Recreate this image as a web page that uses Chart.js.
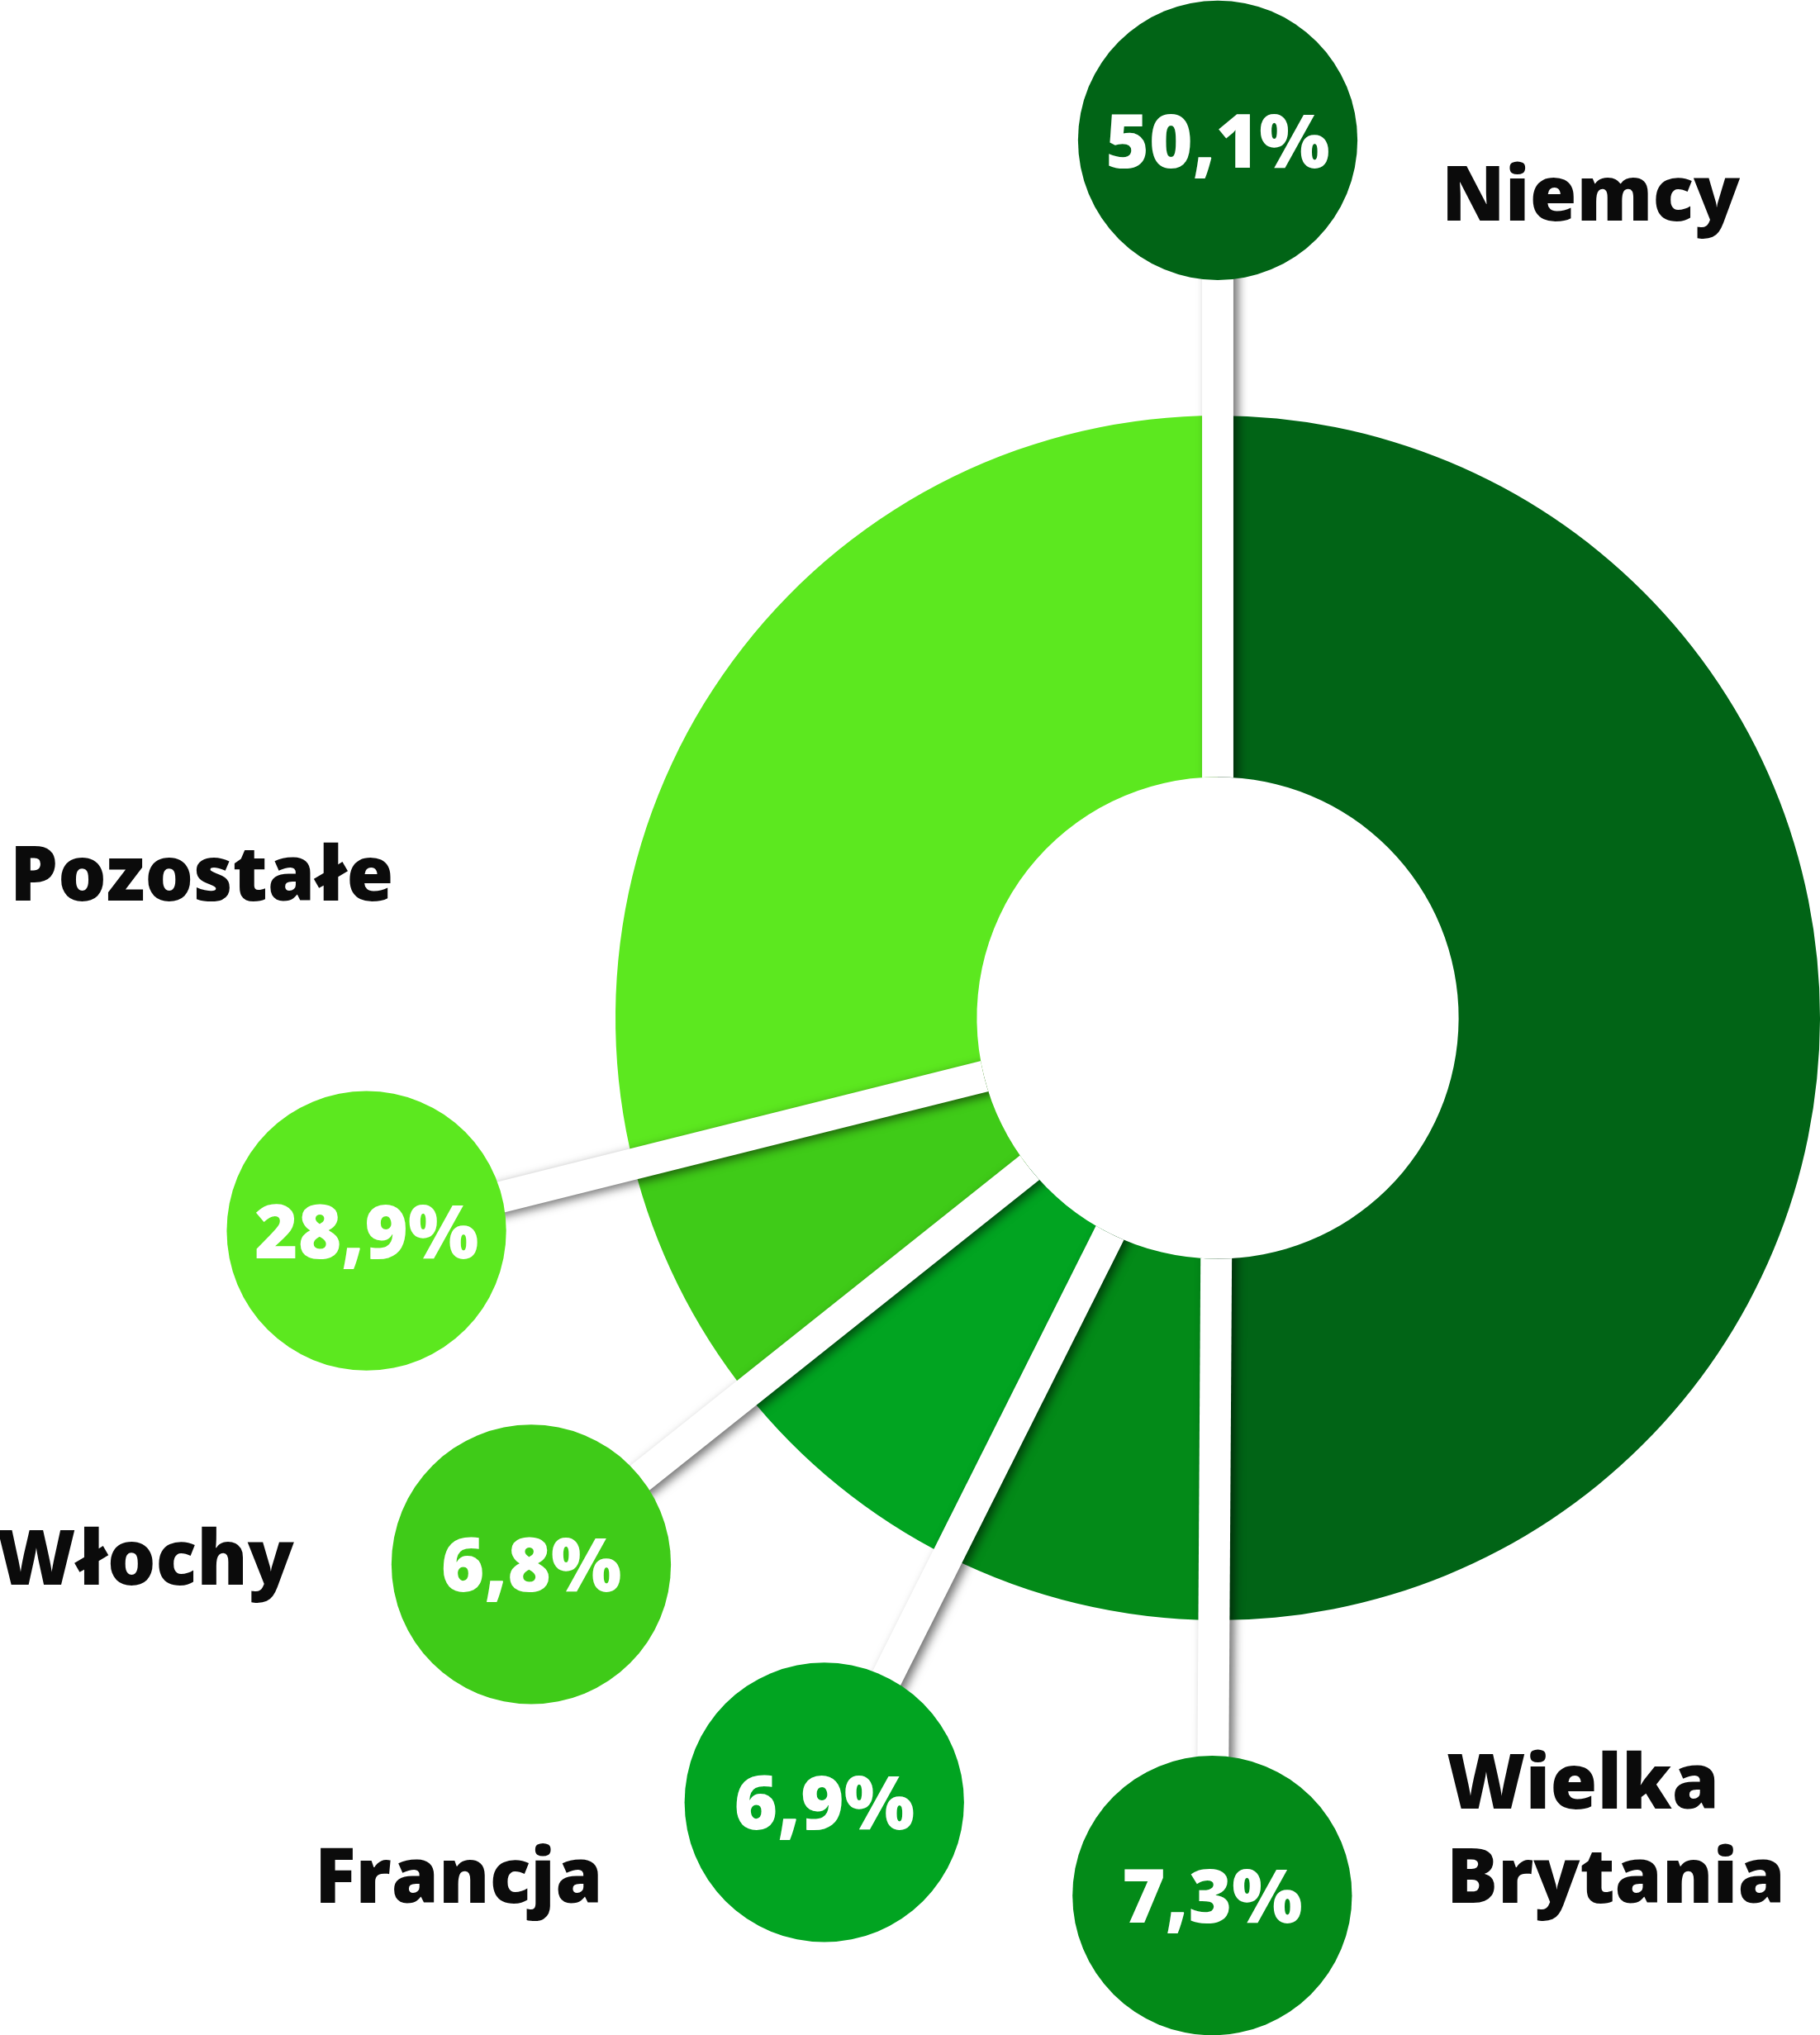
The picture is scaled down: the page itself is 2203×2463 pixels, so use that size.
<!DOCTYPE html>
<html>
<head>
<meta charset="utf-8">
<title>Udział krajów</title>
<script src="https://cdn.jsdelivr.net/npm/chart.js"></script>
<style>
  html, body { margin: 0; padding: 0; background: #fff; }
  #wrap { width: 2203px; height: 2463px; }
</style>
</head>
<body>
<div id="wrap"><canvas id="donut" width="2203" height="2463"></canvas></div>
<script>
const countries = ["Niemcy", "Wielka Brytania", "Francja", "Włochy", "Pozostałe"];
const shares = [50.1, 7.3, 6.9, 6.8, 28.9];
const shareLabels = ["50,1%", "7,3%", "6,9%", "6,8%", "28,9%"];
const sliceColors = ["#016416", "#038a18", "#01a421", "#3fcb18", "#5ce81f"];

// country names: left x and baseline y of every line
const nameSpots = [
    [[1745, 267]],
    [[1751, 2189], [1751, 2303]],
    [[381, 2303]],
    [[-4, 1918]],
    [[12, 1090]]
];

const ctx = document.getElementById("donut").getContext("2d");

// white bars along slice edges, ending in a round badge with the share
const callouts = {
    id: "callouts",
    afterDatasetsDraw(chart) {
        const c = chart.ctx;
        const arcs = chart.getDatasetMeta(0).data;
        const cx = arcs[0].x, cy = arcs[0].y;
        const outer = arcs[0].outerRadius, inner = arcs[0].innerRadius;
        const reach = outer * 1.457;
        const dotR = outer * 0.232;
        const barW = outer * 0.052;

        const ends = arcs.map(a => [cx + Math.cos(a.startAngle) * reach, cy + Math.sin(a.startAngle) * reach]);

        c.save();
        c.beginPath();
        c.rect(0, 0, chart.width, chart.height);
        c.arc(cx, cy, inner, 0, Math.PI * 2);
        c.clip("evenodd");
        ends.forEach(([ex, ey]) => {
            c.save();
            c.shadowColor = "rgba(0,0,0,0.55)";
            c.shadowBlur = 12;
            c.shadowOffsetX = 6;
            c.shadowOffsetY = 3;
            c.strokeStyle = "#fff";
            c.lineWidth = barW;
            c.lineCap = "butt";
            c.beginPath();
            c.moveTo(cx, cy);
            c.lineTo(ex, ey);
            c.stroke();
            c.restore();
        });
        c.restore();

        c.save();
        ends.forEach(([ex, ey], i) => {
            c.fillStyle = sliceColors[i];
            c.beginPath();
            c.arc(ex, ey, dotR, 0, Math.PI * 2);
            c.fill();
            c.fillStyle = "#fff";
            c.font = "800 90px 'Open Sans'";
            c.textAlign = "center";
            c.textBaseline = "alphabetic";
            c.fillText(shareLabels[i], ex, ey + 33);
        });

        c.fillStyle = "#0b0b0b";
        c.font = "800 92px 'Open Sans'";
        c.textAlign = "left";
        countries.forEach((name, i) => {
            const spots = nameSpots[i];
            const lines = spots.length > 1 ? name.split(" ") : [name];
            lines.forEach((txt, j) => c.fillText(txt, spots[j][0], spots[j][1]));
        });
        c.restore();
    }
};

new Chart(ctx, {
    type: "doughnut",
    data: {
        labels: countries,
        datasets: [{
            data: shares,
            backgroundColor: sliceColors,
            borderWidth: 0
        }]
    },
    options: {
        responsive: false,
        animation: false,
        cutout: "40%",
        layout: { padding: { left: 745, right: 0, top: 503, bottom: 502 } },
        plugins: {
            legend: { display: false },
            tooltip: { enabled: false }
        }
    },
    plugins: [callouts]
});
</script>
</body>
</html>
